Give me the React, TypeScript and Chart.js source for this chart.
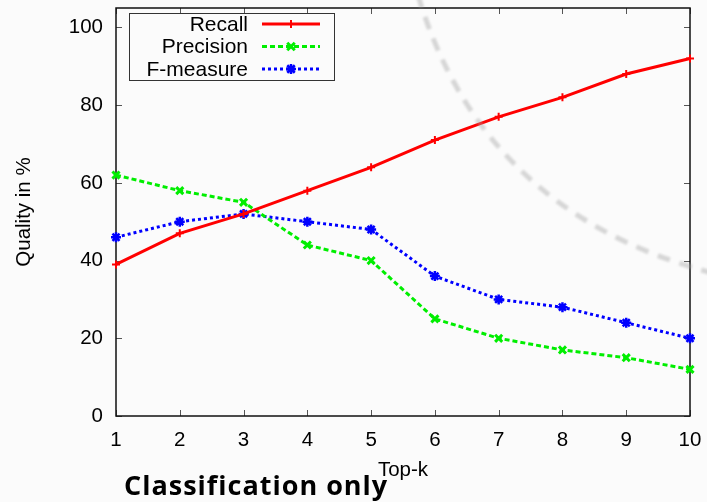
import React, { useEffect, useRef } from "react";
import { Chart, registerables } from "chart.js";

Chart.register(...registerables);

const topK = [1, 2, 3, 4, 5, 6, 7, 8, 9, 10];
const recall = [39, 47, 52, 58, 64, 71, 77, 82, 88, 92];
const precision = [62, 58, 55, 44, 40, 25, 20, 17, 15, 12];
const fMeasure = [46, 50, 52, 50, 48, 36, 30, 28, 24, 20];
const yTicks = [0, 20, 40, 60, 80, 100];
const seriesNames = ["Recall", "Precision", "F-measure"];
const seriesColors = ["#ff0000", "#00ee00", "#0000ff"];
const xTitle = "Top-k";
const yTitle = "Quality in %";
const caption = "Classification only";

const FONT = "'Liberation Sans', Arial, sans-serif";

function drawMarker(ctx: CanvasRenderingContext2D, style: string, x: number, y: number, r: number) {
  ctx.beginPath();
  if (style === "cross" || style === "star") {
    ctx.moveTo(x - r, y);
    ctx.lineTo(x + r, y);
    ctx.moveTo(x, y - r);
    ctx.lineTo(x, y + r);
  }
  if (style === "crossRot" || style === "star") {
    const d = r * 0.75;
    ctx.moveTo(x - d, y - d);
    ctx.lineTo(x + d, y + d);
    ctx.moveTo(x - d, y + d);
    ctx.lineTo(x + d, y - d);
  }
  ctx.stroke();
}

const bgPlugin = {
  id: "bg",
  beforeDraw(chart: any) {
    const { ctx, width, height } = chart;
    ctx.save();
    ctx.fillStyle = "#fbfbfb";
    ctx.fillRect(0, 0, width, height);
    ctx.restore();
  },
};

const framePlugin = {
  id: "frame",
  beforeDatasetsDraw(chart: any) {
    const { ctx, chartArea, scales } = chart;
    const { left, right, top, bottom } = chartArea;
    ctx.save();
    ctx.strokeStyle = "#555";
    ctx.lineWidth = 1;
    ctx.beginPath();
    topK.forEach((v) => {
      const px = Math.round(scales.x.getPixelForValue(v)) + 0.5;
      ctx.moveTo(px, bottom);
      ctx.lineTo(px, bottom - 6);
      ctx.moveTo(px, top);
      ctx.lineTo(px, top + 6);
    });
    yTicks.forEach((v) => {
      const py = Math.round(scales.y.getPixelForValue(v)) + 0.5;
      ctx.moveTo(left, py);
      ctx.lineTo(left + 6, py);
      ctx.moveTo(right, py);
      ctx.lineTo(right - 6, py);
    });
    ctx.stroke();
    ctx.strokeStyle = "#111";
    ctx.lineWidth = 1.5;
    ctx.strokeRect(left, top, right - left, bottom - top);
    ctx.restore();
  },
};

const legendPlugin = {
  id: "gnuLegend",
  afterDatasetsDraw(chart: any) {
    const { ctx } = chart;
    ctx.save();
    ctx.strokeStyle = "#333";
    ctx.lineWidth = 1;
    ctx.strokeRect(129.5, 13.5, 205, 67);
    ctx.font = `21px ${FONT}`;
    ctx.textAlign = "right";
    ctx.textBaseline = "middle";
    ctx.fillStyle = "#000";
    const rows = [24, 46.5, 69];
    chart.data.datasets.forEach((ds: any, i: number) => {
      const y = rows[i];
      ctx.fillText(ds.label, 248, y + 1);
      ctx.strokeStyle = ds.borderColor;
      ctx.lineWidth = ds.borderWidth;
      ctx.setLineDash(ds.borderDash || []);
      ctx.beginPath();
      ctx.moveTo(262, y);
      ctx.lineTo(320, y);
      ctx.stroke();
      ctx.setLineDash([]);
      ctx.lineWidth = ds.pointBorderWidth;
      drawMarker(ctx, ds.pointStyle, 291, y, ds.pointRadius);
    });
    ctx.restore();
  },
};

const arcPlugin = {
  id: "arc",
  afterDraw(chart: any) {
    const { ctx } = chart;
    ctx.save();
    ctx.strokeStyle = "rgba(160,160,160,0.4)";
    ctx.lineWidth = 5;
    ctx.setLineDash([13, 10]);
    ctx.filter = "blur(1px)";
    ctx.beginPath();
    ctx.moveTo(418, -5);
    ctx.bezierCurveTo(455, 120, 540, 230, 720, 275);
    ctx.stroke();
    ctx.restore();
  },
};

export default function App() {
  const ref = useRef<HTMLCanvasElement>(null);
  useEffect(() => {
    if (!ref.current) return;
    const mk = (vals: number[]) => topK.map((k, i) => ({ x: k, y: vals[i] }));
    const chart = new Chart(ref.current, {
      type: "line",
      data: {
        datasets: [
          {
            label: seriesNames[0],
            data: mk(recall),
            borderColor: seriesColors[0],
            backgroundColor: seriesColors[0],
            borderWidth: 3,
            pointStyle: "cross",
            pointRadius: 4,
            pointBorderWidth: 2,
            clip: false,
          },
          {
            label: seriesNames[1],
            data: mk(precision),
            borderColor: seriesColors[1],
            backgroundColor: seriesColors[1],
            borderWidth: 3,
            borderDash: [5, 3],
            pointStyle: "crossRot",
            pointRadius: 5,
            pointBorderWidth: 3,
            clip: false,
          },
          {
            label: seriesNames[2],
            data: mk(fMeasure),
            borderColor: seriesColors[2],
            backgroundColor: seriesColors[2],
            borderWidth: 3,
            borderDash: [3, 3],
            pointStyle: "star",
            pointRadius: 5,
            pointBorderWidth: 2.5,
            clip: false,
          },
        ] as any,
      },
      options: {
        animation: false,
        responsive: false,
        devicePixelRatio: 1,
        layout: { padding: { left: 0, right: 17, top: 7, bottom: 0 } },
        plugins: { legend: { display: false }, tooltip: { enabled: false } },
        elements: { line: { tension: 0 } },
        scales: {
          x: {
            type: "linear",
            min: 1,
            max: 10,
            grid: { display: false, drawTicks: false },
            border: { display: false },
            afterBuildTicks: (s: any) => {
              s.ticks = topK.map((v) => ({ value: v }));
            },
            afterFit: (s: any) => {
              s.height = 86;
              s.paddingLeft = 0;
              s.paddingRight = 0;
            },
            ticks: {
              color: "#000",
              padding: 12,
              maxRotation: 0,
              font: { family: FONT, size: 20.5 },
              callback: (v: any) => String(v),
            },
            title: {
              display: true,
              text: xTitle,
              color: "#000",
              font: { family: FONT, size: 20.5 },
              padding: { top: 0, bottom: 19 },
            },
          },
          y: {
            type: "linear",
            min: 0,
            max: 105,
            grid: { display: false, drawTicks: false },
            border: { display: false },
            afterBuildTicks: (s: any) => {
              s.ticks = yTicks.map((v) => ({ value: v }));
            },
            afterFit: (s: any) => {
              s.width = 116;
              s.paddingTop = 0;
              s.paddingBottom = 0;
            },
            ticks: {
              color: "#000",
              padding: 13,
              font: { family: FONT, size: 20.5 },
              callback: (v: any) => String(v),
            },
            title: {
              display: true,
              text: yTitle,
              color: "#000",
              font: { family: FONT, size: 20.5 },
              padding: { top: 12, bottom: 0 },
            },
          },
        },
      },
      plugins: [bgPlugin, framePlugin, legendPlugin, arcPlugin],
    });
    return () => chart.destroy();
  }, []);

  return (
    <div style={{ position: "fixed", left: 0, top: 0, width: 707, height: 502, background: "#fbfbfb", overflow: "hidden" }}>
      <canvas ref={ref} width={707} height={502} style={{ display: "block" }} />
      <div
        style={{
          position: "absolute",
          left: 124,
          top: 471,
          fontFamily: "'Open Sans', Lato, sans-serif",
          fontWeight: 700,
          fontSize: 27,
          lineHeight: 1,
          letterSpacing: 1,
          color: "#000",
          whiteSpace: "nowrap",
        }}
      >
        {caption}
      </div>
    </div>
  );
}
